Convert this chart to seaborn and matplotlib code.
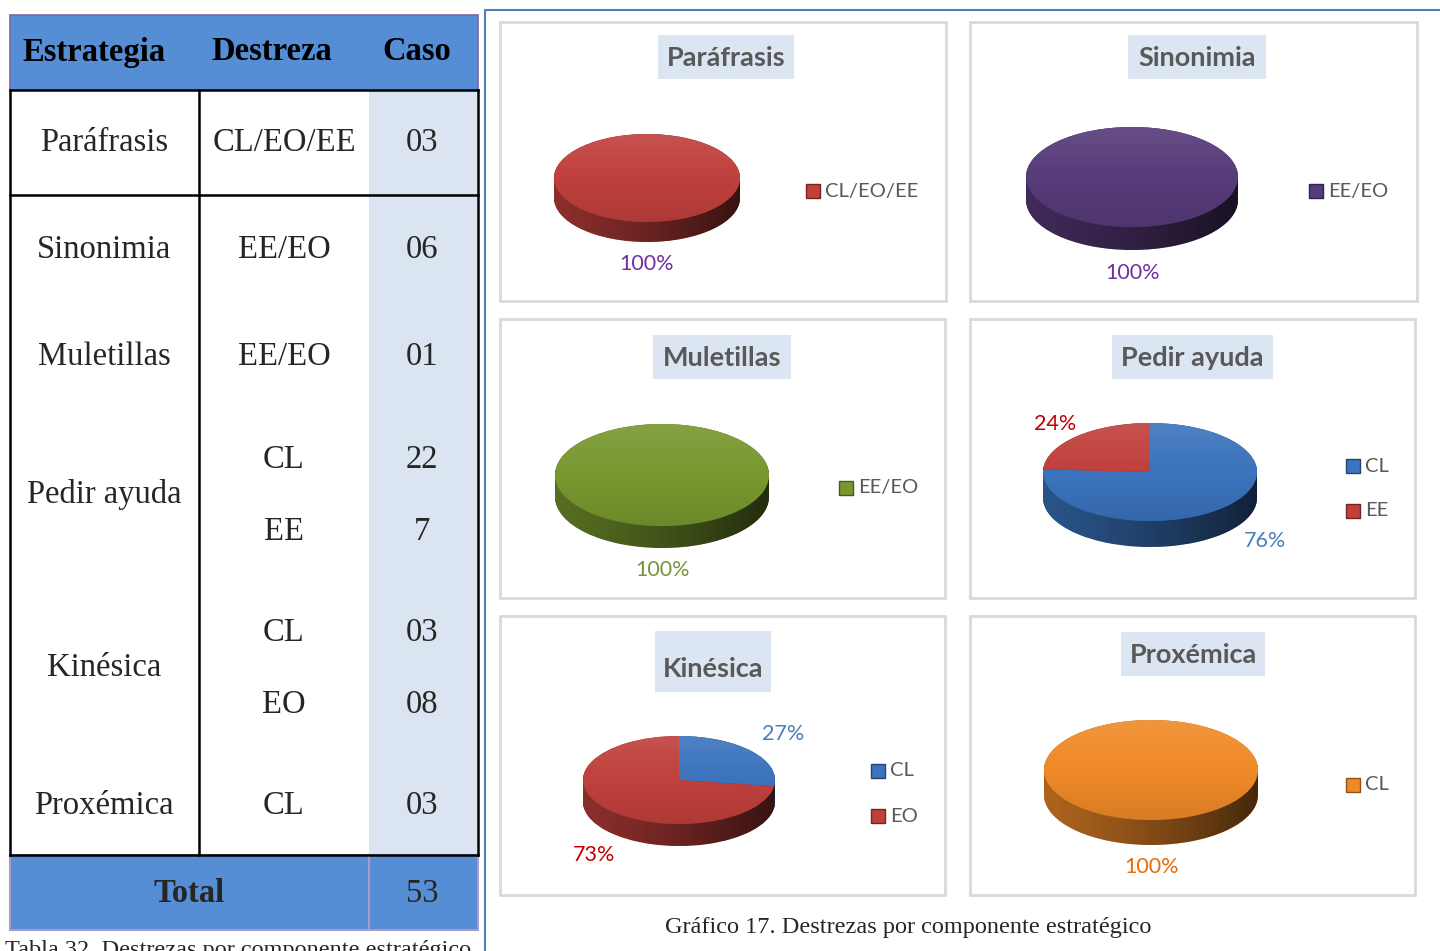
import numpy as np
import matplotlib
matplotlib.use("Agg")
import matplotlib.pyplot as plt
from matplotlib.patches import Rectangle, Polygon, Circle
from matplotlib.colors import to_rgb
import seaborn as sns

# %% Data

header = ["Estrategia", "Destreza", "Caso"]
estrategias = ["Paráfrasis", "Sinonimia", "Muletillas", "Pedir ayuda", "Kinésica", "Proxémica"]
destrezas = ["CL/EO/EE", "EE/EO", "EE/EO", "CL", "EE", "CL", "EO", "CL"]
casos = ["03", "06", "01", "22", "7", "03", "08", "03"]
total_label = "Total"
total_casos = "53"
tabla_caption = "Tabla 32. Destrezas por componente estratégico"
grafico_caption = "Gráfico 17. Destrezas por componente estratégico"

pie_titles = estrategias
pie_labels = [["CL/EO/EE"], ["EE/EO"], ["EE/EO"], ["CL", "EE"], ["CL", "EO"], ["CL"]]
pie_values = [[3], [6], [1], [22, 7], [3, 8], [3]]

# %% Styling / layout (pixels)

sns.set_theme(style="white")
plt.rcParams['font.family'] = ['Lato', 'DejaVu Sans']

W, H = 1440, 951

red, purple, green, blue, orange = sns.color_palette(
    ["#c0403c", "#573b7a", "#78982f", "#3b73bd", "#ef8a28"])
pie_colors = [[red], [purple], [green], [blue, red], [blue, red], [orange]]
pct_colors = [["#7030a0"], ["#7030a0"], ["#77933c"], ["#4a7ebb", "#c00000"],
              ["#4a7ebb", "#c00000"], ["#e46c0a"]]

panel_boxes = [(500, 22, 946, 301), (970, 22, 1417, 301), (500, 319, 945, 598),
               (970, 319, 1415, 598), (500, 616, 945, 895), (970, 616, 1415, 895)]
title_boxes = [(658, 35, 794, 79), (1128, 35, 1266, 79), (653, 335, 791, 379),
               (1112, 335, 1273, 379), (655, 631, 771, 692), (1121, 632, 1265, 676)]
title_y = [58, 58, 358, 358, 669, 655]
# cx, cy, rx, ry, depth
pie_geom = [(647, 178, 93, 44, 20), (1132, 177, 106, 50, 23), (662, 475, 107, 51, 22),
            (1150, 472, 107, 49, 26), (679, 780, 96, 44, 22), (1151, 770, 107, 50, 25)]
pct_pos = [[(647, 264)], [(1133, 273)], [(663, 570)], [(1265, 541), (1055, 424)],
           [(783, 734), (594, 855)], [(1152, 867)]]
legend_pos = [[(813, 191)], [(1316, 191)], [(846, 488)], [(1353, 466), (1353, 511)],
              [(878, 771), (878, 816)], [(1353, 785)]]

est_y = [143, 250, 357, 495, 668, 806]
row_y = [143, 250, 357, 460, 532, 633, 705, 806]


def darken(c, f):
    r, g, b = to_rgb(c)
    return (r * f, g * f, b * f)


fig = plt.figure(figsize=(W / 100, H / 100), dpi=100)
fig.patch.set_facecolor("white")

bg = fig.add_axes([0, 0, 1, 1])
bg.set_xlim(0, W)
bg.set_ylim(H, 0)
bg.axis("off")

# %% Table

serif = "Liberation Serif"
hblue = "#558ed5"
lav = "#a99bc9"

bg.add_patch(Rectangle((10, 15), 468, 75, facecolor=hblue, edgecolor="#8064a2", lw=1.2))
bg.add_patch(Rectangle((369, 90), 109, 765, facecolor="#dbe5f1", edgecolor="none"))
bg.add_patch(Rectangle((10, 855), 468, 75, facecolor=hblue, edgecolor=lav, lw=1.5))
bg.plot([369, 369], [855, 930], color=lav, lw=1.5)

for yy in [90, 195, 855]:
    bg.plot([10, 478], [yy, yy], color="black", lw=1.8, solid_capstyle="projecting")
for xx in [10, 199, 478]:
    bg.plot([xx, xx], [90, 855], color="black", lw=1.8, solid_capstyle="projecting")

for txt, xx in zip(header, [94, 272, 417]):
    bg.text(xx, 52, txt, family=serif, fontsize=23.5, fontweight="bold",
            ha="center", va="center", color="black")

for txt, yy in zip(estrategias, est_y):
    bg.text(104, yy, txt, family=serif, fontsize=23.5, ha="center", va="center")
for d, c, yy in zip(destrezas, casos, row_y):
    bg.text(284, yy, d, family=serif, fontsize=23.5, ha="center", va="center")
    bg.text(422, yy, c, family=serif, fontsize=23.5, ha="center", va="center")

bg.text(189, 894, total_label, family=serif, fontsize=23.5, fontweight="bold",
        ha="center", va="center")
bg.text(422, 894, total_casos, family=serif, fontsize=23.5, ha="center", va="center")
# caption of the table is cut by the bottom edge, as in the source page
bg.text(5, 940, tabla_caption, family=serif, fontsize=17.5, ha="left", va="top")

# %% Chart frame

bg.plot([485, 485], [10, H], color="#4f81bd", lw=1.5)
bg.plot([485, W], [10, 10], color="#4f81bd", lw=1.5)
bg.text(908, 928, grafico_caption, family=serif, fontsize=17.5, ha="center", va="center")

for i in range(6):
    x0, y0, x1, y1 = panel_boxes[i]
    bg.add_patch(Rectangle((x0, y0), x1 - x0, y1 - y0, facecolor="white",
                           edgecolor="#d9d9d9", lw=2))
    tx0, ty0, tx1, ty1 = title_boxes[i]
    bg.add_patch(Rectangle((tx0, ty0), tx1 - tx0, ty1 - ty0, facecolor="#dce6f2",
                           edgecolor="none"))
    bg.text((tx0 + tx1) / 2, title_y[i], pie_titles[i], fontsize=19.5, fontweight="bold",
            color="#595959", ha="center", va="center")

    # legend
    for lab, col, (lx, ly) in zip(pie_labels[i], pie_colors[i], legend_pos[i]):
        bg.add_patch(Rectangle((lx - 7, ly - 7), 14, 14, facecolor=col,
                               edgecolor=darken(col, 0.6), lw=1))
        bg.text(lx + 12, ly, lab, fontsize=14.5, color="#595959", ha="left", va="center")

    # percent labels
    vals = np.array(pie_values[i], dtype=float)
    pcts = np.round(100 * vals / vals.sum()).astype(int)
    for p, col, (px, py) in zip(pcts, pct_colors[i], pct_pos[i]):
        bg.text(px, py, f"{p}%", fontsize=15.5, color=col, ha="center", va="center")

# %% 3D-looking pies

pad = 4
xs = np.linspace(-1, 1, 300)
lower = -np.sqrt(np.clip(1 - xs ** 2, 0, None))

for i in range(6):
    cx, cy, rx, ry, dep = pie_geom[i]
    D = dep / ry
    ax = fig.add_axes([(cx - rx - pad) / W, 1 - (cy + ry + dep + pad) / H,
                       (2 * rx + 2 * pad) / W, (2 * ry + dep + 2 * pad) / H])
    cols = pie_colors[i]
    side = [darken(c, 0.72) for c in cols]

    for k in np.linspace(D, 0.0, 40):
        ax.pie(pie_values[i], colors=side, startangle=90, counterclock=False,
               center=(0, -k), radius=1, wedgeprops=dict(linewidth=0, zorder=1))

    # shading on the side, light left -> dark right
    side_poly = Polygon(np.column_stack([np.r_[xs, xs[::-1]], np.r_[lower, lower[::-1] - D]]),
                        transform=ax.transData)
    grad = np.zeros((1, 256, 4))
    grad[..., 3] = np.linspace(0, 1, 256) ** 1.3 * 0.6
    im = ax.imshow(grad, extent=(-1, 1, -1 - D, 0), aspect="auto", zorder=2,
                   interpolation="bilinear")
    im.set_clip_path(side_poly)

    ax.pie(pie_values[i], colors=cols, startangle=90, counterclock=False,
           center=(0, 0), radius=1, wedgeprops=dict(linewidth=0, zorder=3))

    # soft highlight on top face
    top = np.zeros((256, 1, 4))
    t = np.linspace(0, 1, 256)
    top[:, 0, :3] = np.where(t < 0.5, 1.0, 0.0)[:, None]
    top[:, 0, 3] = np.where(t < 0.5, 0.10 * (1 - 2 * t), 0.10 * (2 * t - 1))
    im2 = ax.imshow(top, extent=(-1, 1, -1, 1), aspect="auto", zorder=4,
                    interpolation="bilinear")
    im2.set_clip_path(Circle((0, 0), 1, transform=ax.transData))

    ax.set_aspect("auto")
    ax.set_xlim(-1 - pad / rx, 1 + pad / rx)
    ax.set_ylim(-1 - D - pad / ry, 1 + pad / ry)
    ax.axis("off")

plt.savefig("out.png", dpi=100)
